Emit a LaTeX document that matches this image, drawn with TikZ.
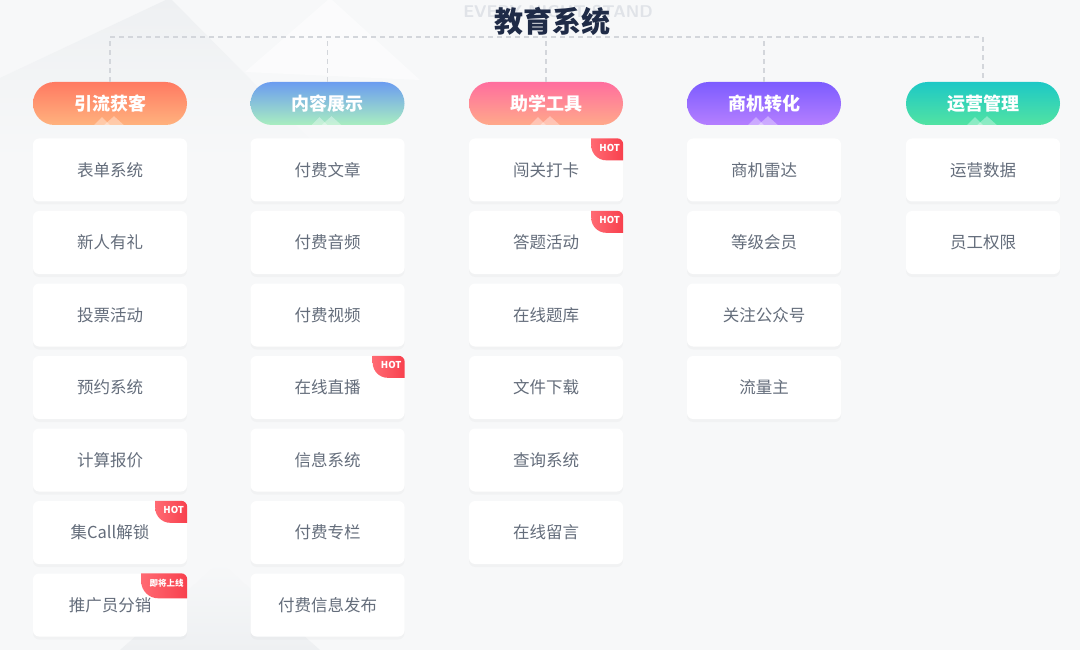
\documentclass[tikz,border=0pt]{standalone}
\usepackage{fontspec}
\newfontfamily\cjk{Noto Sans CJK SC}
\usetikzlibrary{shadows}
\definecolor{bg}{HTML}{F7F8F9}
\definecolor{bgdark}{HTML}{EEF0F2}
\definecolor{dashc}{HTML}{D3D6DB}
\definecolor{titlec}{HTML}{1F2B47}
\definecolor{ghost}{HTML}{E0E3E8}
\definecolor{cardtext}{HTML}{646D7B}
\definecolor{hotL}{HTML}{FF6A73}
\definecolor{hotR}{HTML}{F8404D}
\definecolor{aT}{HTML}{FF7A62}\definecolor{aB}{HTML}{FFB27E}
\definecolor{bT}{HTML}{6B9CF0}\definecolor{bB}{HTML}{A9EEC0}
\definecolor{cT}{HTML}{FF6E9E}\definecolor{cB}{HTML}{FFA98A}
\definecolor{dT}{HTML}{7C5CFF}\definecolor{dB}{HTML}{B57FFF}
\definecolor{eT}{HTML}{1DC8C6}\definecolor{eB}{HTML}{52E3A2}
\newcommand\mybadge[6]{% node, width, height, radius, label, fontsize
  \begin{scope}[shift={(#1.north east)},x=1pt,y=1pt]
    \shade[left color=hotL,right color=hotR]
      (-#2,0) -- (-6,0) arc[start angle=90,end angle=0,radius=6]
      -- (0,-#3) -- ({-#2+#4},-#3) arc[start angle=270,end angle=180,radius=#4]
      -- (-#2,{-#3+#4}) -- cycle;
    \node[font=\cjk\bfseries\fontsize{#6}{#6}\selectfont,text=white,inner sep=0pt]
      (#1-badge) at ({-#2/2+2.5},-9.5) {#5};
  \end{scope}}
\begin{document}
\begin{tikzpicture}[x=1pt,y=-1pt,
  pill/.style={minimum width=154pt,minimum height=43pt,rounded corners=21.5pt,
    inner sep=0pt,text=white,font=\cjk\bfseries\fontsize{18}{20}\selectfont},
  card/.style={minimum width=154pt,minimum height=63pt,rounded corners=6pt,
    fill=white,inner sep=0pt,text=cardtext,font=\cjk\fontsize{16.5}{18}\selectfont,
    drop shadow={opacity=0.045,shadow xshift=0pt,shadow yshift=-3pt}},
  dashline/.style={draw=dashc,line width=1.1pt,dash pattern=on 5pt off 4pt},
  deco/.style={fill=white,opacity=0.35}]
\useasboundingbox (0,0) rectangle (1080,650);
\fill[bg] (0,0) rectangle (1080,650);
% faint background shapes
\shade[top color=bgdark,bottom color=bg] (0,78) -- (170,-2) -- (330,160) -- (0,160) -- cycle;
\shade[top color=bg,bottom color=bgdark] (120,650) -- (220,562) -- (320,650) -- cycle;
\fill[white,opacity=0.5] (245,72) -- (330,-2) -- (420,80) -- cycle;
% title
\node[font=\bfseries\sffamily\fontsize{17}{18}\selectfont,text=ghost] (ghost) at (558,12) {EVERY NIGHT STAND};
\node[font=\cjk\bfseries\fontsize{29}{30}\selectfont,text=titlec,inner sep=0pt] (title) at (552,21) {教育系统};
% headers
\node[pill,top color=aT,bottom color=aB] (p1) at (110,103.5) {引流获客};
\node[pill,top color=bT,bottom color=bB] (p2) at (327.5,103.5) {内容展示};
\node[pill,top color=cT,bottom color=cB] (p3) at (546,103.5) {助学工具};
\node[pill,top color=dT,bottom color=dB] (p4) at (764,103.5) {商机转化};
\node[pill,top color=eT,bottom color=eB] (p5) at (983,103.5) {运营管理};
\foreach \p in {p1,p2,p3,p4,p5}{
  \fill[deco] ([xshift=-16pt]\p.south) -- ++(8,-8) -- ++(8,8) -- cycle;
  \fill[deco] ([xshift=-6pt]\p.south) -- ++(10,-9) -- ++(10,9) -- cycle;
}
% connectors
\coordinate (bus) at (546,37);
\draw[dashline] (p1.north) -- (p1.north |- bus) -- (p5.north |- bus) -- (p5.north);
\foreach \p in {p2,p3,p4}{\draw[dashline] (\p.north) -- (\p.north |- bus);}
% cards
\foreach \t [count=\i] in {表单系统,新人有礼,投票活动,预约系统,计算报价,集Call解锁,推广员分销}
  \node[card] (a\i) at (110,{170+(\i-1)*72.5}) {\t};
\foreach \t [count=\i] in {付费文章,付费音频,付费视频,在线直播,信息系统,付费专栏,付费信息发布}
  \node[card] (b\i) at (327.5,{170+(\i-1)*72.5}) {\t};
\foreach \t [count=\i] in {闯关打卡,答题活动,在线题库,文件下载,查询系统,在线留言}
  \node[card] (c\i) at (546,{170+(\i-1)*72.5}) {\t};
\foreach \t [count=\i] in {商机雷达,等级会员,关注公众号,流量主}
  \node[card] (d\i) at (764,{170+(\i-1)*72.5}) {\t};
\foreach \t [count=\i] in {运营数据,员工权限}
  \node[card] (e\i) at (983,{170+(\i-1)*72.5}) {\t};
% badges
\mybadge{c1}{32}{22}{15}{HOT}{9.5}
\mybadge{c2}{32}{22}{15}{HOT}{9.5}
\mybadge{b4}{32}{22}{15}{HOT}{9.5}
\mybadge{a6}{32}{22}{15}{HOT}{9.5}
\mybadge{a7}{46}{25}{17}{即将上线}{8.5}
\end{tikzpicture}
\end{document}
